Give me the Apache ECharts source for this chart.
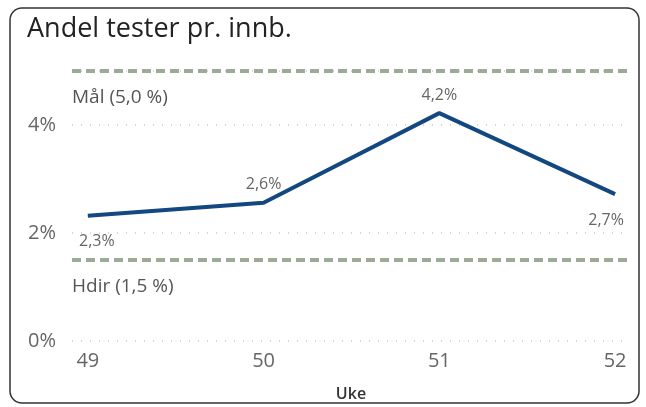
<!DOCTYPE html>
<html>
<head>
<meta charset="utf-8">
<script src="https://cdn.jsdelivr.net/npm/echarts@6/dist/echarts.min.js"></script>
<style>
  html, body { margin: 0; padding: 0; background: #fff; }
  #chart { width: 646px; height: 407px; }
</style>
</head>
<body>
<div id="chart"></div>
<script>
var weeks = [49, 50, 51, 52];
var shares = [2.32, 2.56, 4.22, 2.72];
var labelPos = ['bottom', 'top', 'top', 'bottom'];
var labelShift = [9, 0, 0, -9];
var yTicks = [0, 2, 4];
var goal = 5.0;
var hdir = 1.5;

var chart = echarts.init(document.getElementById('chart'));

function pct(v) {
    return v.toFixed(1).replace('.', ',') + '%';
}

var points = weeks.map(function (w, i) {
    return {
        value: [w, shares[i]],
        label: {
            position: labelPos[i],
            offset: [labelShift[i], 0],
            distance: labelPos[i] == 'top' ? 9 : 17
        }
    };
});

var option = {
    animation: false,
    textStyle: { fontFamily: 'Open Sans' },
    title: {
        text: 'Andel tester pr. innb.',
        left: 22,
        top: 11,
        textStyle: { fontSize: 27, fontWeight: 'normal', color: '#222', fontFamily: 'Open Sans' }
    },
    graphic: [{
        type: 'rect',
        shape: { x: 10, y: 8, width: 629, height: 395, r: 12 },
        style: { fill: 'none', stroke: '#333', lineWidth: 1.5 },
        silent: true
    }],
    grid: { left: 72, right: 16, top: 71, bottom: 66 },
    xAxis: {
        type: 'value',
        min: 48.91,
        max: 52.085,
        name: 'Uke',
        nameLocation: 'middle',
        nameGap: 45,
        nameTextStyle: { fontSize: 16, fontWeight: 600, color: '#333' },
        axisLine: { show: false },
        axisTick: { show: false },
        splitLine: { show: false },
        axisLabel: {
            customValues: weeks,
            fontSize: 20,
            color: '#666',
            margin: 10
        }
    },
    yAxis: {
        type: 'value',
        min: 0,
        max: 5,
        interval: 2,
        axisLine: { show: false },
        axisTick: { show: false },
        axisLabel: {
            customValues: yTicks,
            fontSize: 20,
            color: '#666',
            margin: 16,
            formatter: function (v) { return v + '%'; }
        },
        splitLine: {
            show: true,
            lineStyle: { color: '#c8c8c8', type: [1, 8], width: 1.5 }
        }
    },
    series: [{
        type: 'line',
        data: points,
        symbol: 'circle',
        symbolSize: 2,
        showSymbol: true,
        itemStyle: { color: 'rgba(0,0,0,0)' },
        lineStyle: { color: '#12477f', width: 4 },
        label: {
            show: true,
            fontSize: 16,
            color: '#666',
            formatter: function (p) { return pct(p.value[1]); }
        },
        markLine: {
            silent: true,
            symbol: 'none',
            lineStyle: { color: '#9aab96', type: [9, 5], width: 4 },
            label: {
                position: 'insideStartBottom',
                fontSize: 19,
                color: '#555',
                distance: [0, 17],
                formatter: function (p) { return p.name; }
            },
            data: [
                { name: 'Mål (5,0 %)', yAxis: goal },
                { name: 'Hdir (1,5 %)', yAxis: hdir }
            ]
        }
    }]
};

chart.setOption(option);
</script>
</body>
</html>
